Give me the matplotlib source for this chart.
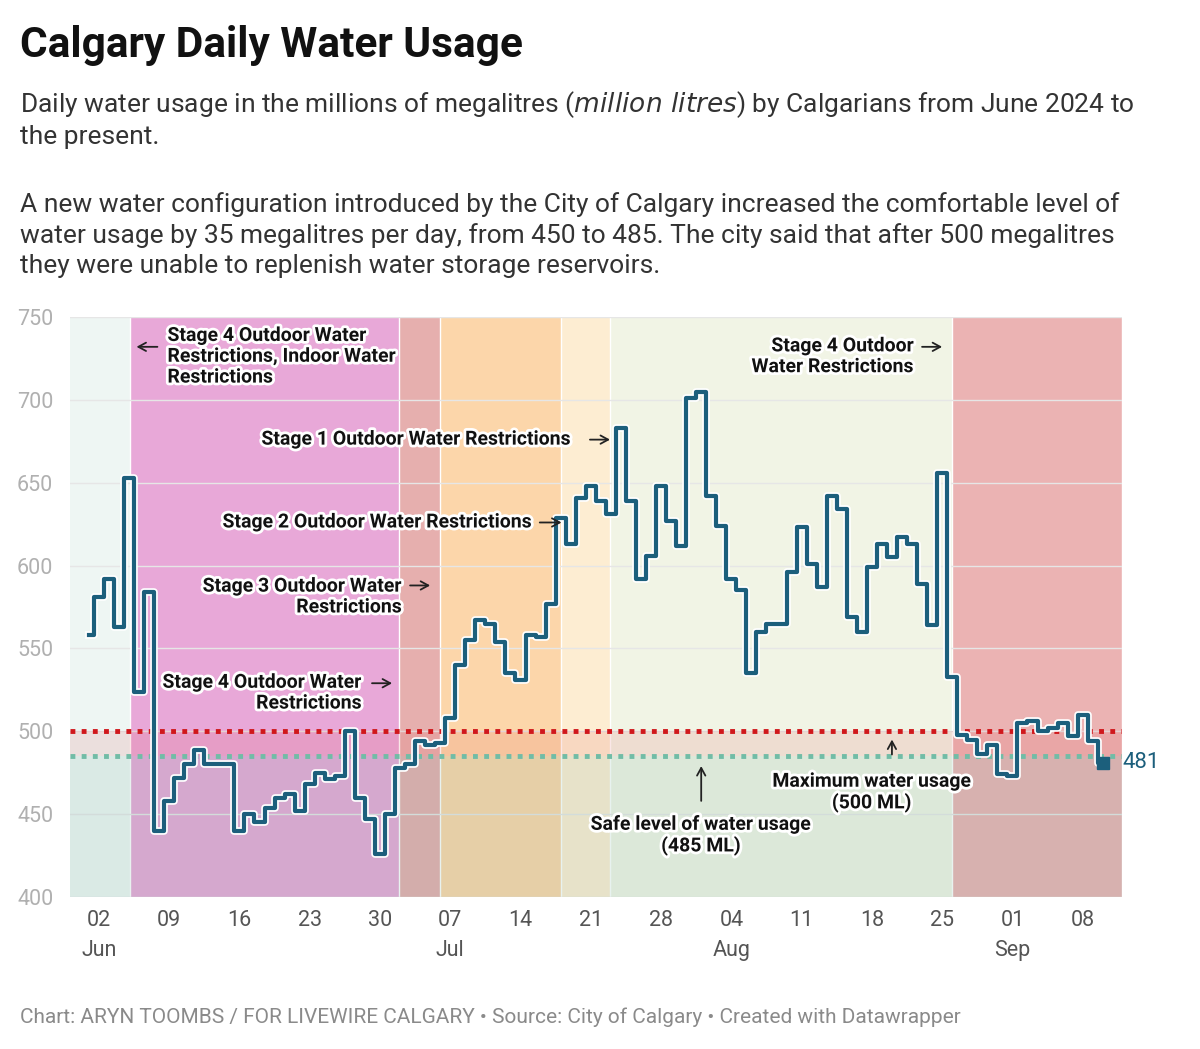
import matplotlib
matplotlib.use("Agg")
import matplotlib.pyplot as plt
import matplotlib.patheffects as pe
import datetime as dt

plt.rcParams['font.family'] = ['Roboto', 'DejaVu Sans']

start = dt.date(2024, 6, 1)
usage = [558, 581, 592, 563, 653, 524, 584, 440, 458, 472, 480, 489, 480, 480, 480,
         440, 450, 445, 454, 460, 462, 452, 468, 475, 471, 473, 500, 460, 447, 426,
         450, 478, 480, 494, 492, 493, 508, 540, 555, 567, 565, 554, 535, 531, 558,
         557, 577, 629, 613, 641, 648, 639, 631, 683, 639, 592, 606, 648, 627, 612,
         701, 705, 642, 624, 592, 585, 535, 560, 565, 565, 596, 623, 601, 587, 642,
         634, 569, 560, 599, 613, 605, 617, 613, 589, 564, 656, 533, 498, 495, 486,
         492, 474, 473, 505, 506, 500, 502, 505, 497, 510, 494, 481]
dates = [start + dt.timedelta(days=i) for i in range(len(usage))]

x_start = dt.datetime(2024, 5, 30, 3)
x_end = dt.datetime(2024, 9, 11, 22)
# restriction periods (start, end, colour)
bands = [
    (x_start, dt.datetime(2024, 6, 5, 2), '#eef6f3'),
    (dt.datetime(2024, 6, 5, 2), dt.datetime(2024, 7, 1, 22), '#e8a8d8'),
    (dt.datetime(2024, 7, 1, 22), dt.datetime(2024, 7, 5, 23), '#e6afae'),
    (dt.datetime(2024, 7, 5, 23), dt.datetime(2024, 7, 18, 0), '#fcd6aa'),
    (dt.datetime(2024, 7, 18, 0), dt.datetime(2024, 7, 22, 22), '#fdedd2'),
    (dt.datetime(2024, 7, 22, 22), dt.datetime(2024, 8, 26, 0), '#f1f4e5'),
    (dt.datetime(2024, 8, 26, 0), x_end, '#ebb3b3'),
]
safe_level = 485
max_level = 500
ticks = [dt.date(2024, 6, 2) + dt.timedelta(days=7 * k) for k in range(15)]

fig = plt.figure(figsize=(12, 10.49), dpi=100)
ax = fig.add_axes([70 / 1200, 1 - 897 / 1049, 1052 / 1200, 580 / 1049])

for b0, b1, c in bands:
    ax.axvspan(b0, b1, color=c, zorder=0, lw=0)
    ax.axvline(b1, color='white', lw=1, zorder=0.5)
ax.axhspan(400, safe_level, color='#6aa89a', alpha=0.15, zorder=1, lw=0)
ax.axhspan(safe_level, max_level, color='#e06060', alpha=0.15, zorder=1, lw=0)

for y in range(400, 751, 50):
    ax.axhline(y, color='#e6e6e6', lw=1, zorder=0.8)

ax.axhline(max_level, color='#d0181c', lw=3.5, ls=(0, (1, 1.3)), zorder=3)
ax.axhline(safe_level, color='#71bca6', lw=3.5, ls=(0, (1, 1.3)), zorder=3)

ax.plot(dates, usage, drawstyle='steps-mid', color='#1c5f7c', lw=3, zorder=5,
        path_effects=[pe.Stroke(linewidth=5.5, foreground='white'), pe.Normal()])
ax.plot([dates[-1]], [usage[-1]], marker='s', color='#1c5f7c', ms=9, zorder=6)
ax.text(dates[-1] + dt.timedelta(days=2.1), usage[-1], str(usage[-1]), color='#1c5f7c',
        fontsize=16, va='center', ha='left', clip_on=False)

ax.set_xlim(x_start, x_end)
ax.set_ylim(400, 750)
ax.set_xticks(ticks)
labels = []
for d in ticks:
    lab = d.strftime('%d')
    if d.day <= 7:
        lab += '\n' + d.strftime('%b')
    labels.append(lab)
ax.set_xticklabels(labels, fontsize=15.5, color='#555555', linespacing=1.6)
ax.set_yticks(range(400, 751, 50))
ax.tick_params(axis='y', labelsize=15.5, labelcolor='#b0b0b0', length=0, pad=12)
ax.tick_params(axis='x', length=0, pad=9)
for s in ax.spines.values():
    s.set_visible(False)

halo = [pe.withStroke(linewidth=4, foreground='white')]
def note(x, y, txt, ha='left'):
    ax.text(x, y, txt, fontsize=14, fontweight='bold', ha=ha, va='center', color='#111111',
            path_effects=halo, zorder=7, linespacing=1.2)

def arrow(x0, x1, y0, y1=None):
    ax.annotate('', xy=(x1, y0 if y1 is None else y1), xytext=(x0, y0),
                arrowprops=dict(arrowstyle='->,head_length=0.55,head_width=0.3',
                                color='#222222', lw=1.3, shrinkA=0, shrinkB=0), zorder=7)

D = lambda m, d, h=0: dt.datetime(2024, m, d, h)
note(D(6, 8, 20), 726, 'Stage 4 Outdoor Water\nRestrictions, Indoor Water\nRestrictions')
arrow(D(6, 7, 20), D(6, 5, 18), 732)
note(D(7, 19, 2), 676, 'Stage 1 Outdoor Water Restrictions', ha='right')
arrow(D(7, 20, 22), D(7, 22, 22), 676)
note(D(7, 15, 5), 626, 'Stage 2 Outdoor Water Restrictions', ha='right')
arrow(D(7, 15, 22), D(7, 18, 2), 626)
note(D(7, 2, 5), 581, 'Stage 3 Outdoor Water\nRestrictions', ha='right')
arrow(D(7, 3, 0), D(7, 5, 0), 588)
note(D(6, 28, 5), 523, 'Stage 4 Outdoor Water\nRestrictions', ha='right')
arrow(D(6, 29, 5), D(7, 1, 5), 529)
note(D(8, 22, 5), 726, 'Stage 4 Outdoor\nWater Restrictions', ha='right')
arrow(D(8, 23, 0), D(8, 25, 0), 732)
note(D(8, 1, 0), 437, 'Safe level of water usage\n(485 ML)', ha='center')
arrow(D(8, 1, 0), D(8, 1, 0), 458, 479)
note(D(8, 18, 0), 463, 'Maximum water usage\n(500 ML)', ha='center')
arrow(D(8, 20, 0), D(8, 20, 0), 486, 495)

fig.text(20 / 1200, 1 - 45 / 1049, 'Calgary Daily Water Usage', fontsize=30.5,
         fontweight='bold', va='center', color='#111111')
fig.text(20 / 1200, 1 - 119 / 1049,
         'Daily water usage in the millions of megalitres ($\\it{million\\ litres}$) by Calgarians from June 2024 to\nthe present.',
         fontsize=19, va='center', color='#333333', linespacing=1.3)
fig.text(20 / 1200, 1 - 235 / 1049,
         'A new water configuration introduced by the City of Calgary increased the comfortable level of\n'
         'water usage by 35 megalitres per day, from 450 to 485. The city said that after 500 megalitres\n'
         'they were unable to replenish water storage reservoirs.',
         fontsize=19, va='center', color='#333333', linespacing=1.3)
fig.text(20 / 1200, 1 - 1017 / 1049,
         'Chart: ARYN TOOMBS / FOR LIVEWIRE CALGARY • Source: City of Calgary • Created with Datawrapper',
         fontsize=15, va='center', color='#8a8a8a')

fig.savefig('out.png', dpi=100)
